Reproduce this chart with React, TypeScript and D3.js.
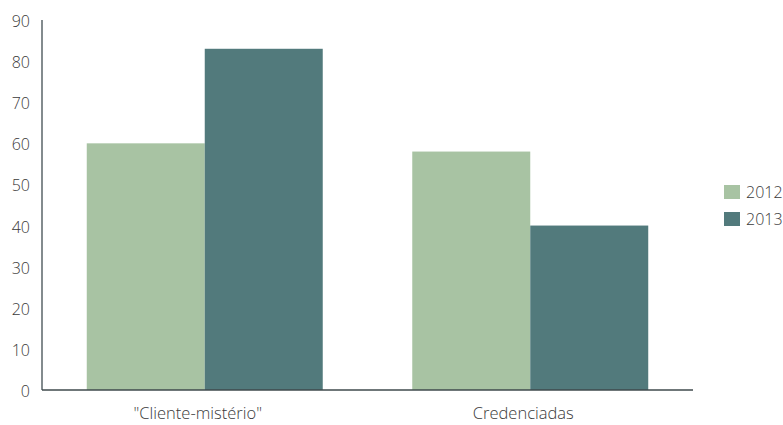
import React from "react";
import * as d3 from "d3";

const categories = ['"Cliente-mistério"', "Credenciadas"];
const seriesNames = ["2012", "2013"];
const values2012 = [60, 58];
const values2013 = [83, 40];
const yTicks = [0, 10, 20, 30, 40, 50, 60, 70, 80, 90];
const colors = ["#a8c3a3", "#527a7c"];

const W = 783;
const H = 425;
const margin = { left: 42, right: 90, top: 20, bottom: 35 };
const FONT = "'Open Sans', sans-serif";
const TEXT = "#3a3a3a";

export default function App() {
  const x0 = d3
    .scaleBand<string>()
    .domain(categories)
    .range([margin.left, W - margin.right])
    .paddingInner(0.275)
    .paddingOuter(0.1375);
  const x1 = d3.scaleBand<string>().domain(seriesNames).range([0, x0.bandwidth()]);
  const y = d3.scaleLinear().domain([0, 90]).range([H - margin.bottom, margin.top]);
  const series = [values2012, values2013];

  return (
    <svg
      width={W}
      height={H}
      style={{ position: "absolute", left: 0, top: 0, background: "#fff" }}
      fontFamily={FONT}
      fontWeight={300}
    >
      {categories.map((c, i) =>
        seriesNames.map((s, j) => (
          <rect
            key={c + s}
            x={(x0(c) ?? 0) + (x1(s) ?? 0)}
            y={y(series[j][i])}
            width={x1.bandwidth()}
            height={y(0) - y(series[j][i])}
            fill={colors[j]}
          />
        ))
      )}
      <line x1={margin.left} x2={margin.left} y1={y(90)} y2={y(0)} stroke="#5a6468" strokeWidth={1.5} />
      <line x1={margin.left} x2={W - margin.right} y1={y(0)} y2={y(0)} stroke="#3f4a4d" strokeWidth={1.5} />
      {yTicks.map((t) => (
        <text
          key={t}
          x={30}
          y={y(t) + 1}
          textAnchor="end"
          dominantBaseline="central"
          fontSize={16}
          fill={TEXT}
        >
          {t}
        </text>
      ))}
      {categories.map((c) => (
        <text
          key={c}
          x={(x0(c) ?? 0) + x0.bandwidth() / 2 - 7}
          y={419}
          textAnchor="middle"
          fontSize={16.5}
          fill={TEXT}
        >
          {c}
        </text>
      ))}
      {seriesNames.map((s, j) => (
        <g key={s} transform={`translate(724, ${185 + j * 27})`}>
          <rect width={16} height={14} fill={colors[j]} />
          <text x={22} y={7} dominantBaseline="central" fontSize={16} fill={TEXT}>
            {s}
          </text>
        </g>
      ))}
    </svg>
  );
}
